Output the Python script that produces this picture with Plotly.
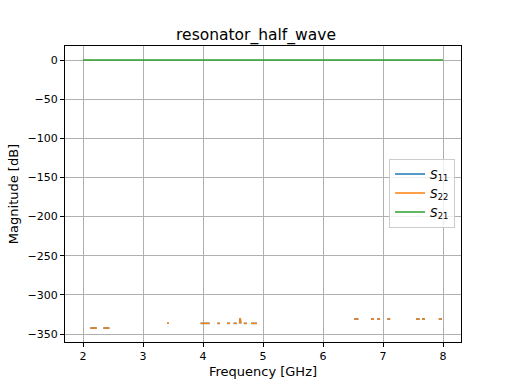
import plotly.graph_objects as go

# S22 (and S11, identical and hidden underneath) : numerical-noise fragments, None = gap (-inf dB)
s22_freq = [2.12, 2.17, 2.23, None,
            2.34, 2.39, 2.44, None,
            3.40, 3.43, None,
            3.96, 4.02, 4.07, 4.11, None,
            4.24, 4.28, None,
            4.40, 4.45, None,
            4.51, 4.56, None,
            4.61, 4.62, 4.63, None,
            4.68, 4.73, None,
            4.80, 4.85, 4.90, None,
            6.52, 6.59, None,
            6.80, 6.85, None,
            6.90, 6.95, None,
            7.07, 7.12, None,
            7.55, 7.61, None,
            7.65, 7.70, None,
            7.93, 7.98]
s22_db = [-342.3, -342.3, -342.3, None,
          -342.3, -342.3, -342.3, None,
          -336.3, -336.3, None,
          -336.3, -336.3, -336.3, -336.3, None,
          -336.3, -336.3, None,
          -336.3, -336.3, None,
          -336.3, -336.3, None,
          -336.3, -329.5, -336.3, None,
          -336.3, -336.3, None,
          -336.3, -336.3, -336.3, None,
          -330.8, -330.8, None,
          -330.8, -330.8, None,
          -330.8, -330.8, None,
          -330.8, -330.8, None,
          -330.8, -330.8, None,
          -330.8, -330.8, None,
          -330.8, -330.8]
s11_freq = s22_freq
s11_db = s22_db
s21_freq = [2.0, 8.0]
s21_db = [0.0, 0.0]

x_ticks = [2, 3, 4, 5, 6, 7, 8]
y_ticks = [0, -50, -100, -150, -200, -250, -300, -350]

fig = go.Figure()
fig.add_trace(go.Scatter(x=s11_freq, y=s11_db, mode="lines", name="<i>S</i><sub>11</sub>",
                         line=dict(color="#1f77b4", width=1.5), connectgaps=False))
fig.add_trace(go.Scatter(x=s22_freq, y=s22_db, mode="lines", name="<i>S</i><sub>22</sub>",
                         line=dict(color="#ff7f0e", width=1.5), connectgaps=False))
fig.add_trace(go.Scatter(x=s21_freq, y=s21_db, mode="lines", name="<i>S</i><sub>21</sub>",
                         line=dict(color="#2ca02c", width=1.5)))

axis_common = dict(showgrid=True, gridcolor="#b0b0b0", gridwidth=0.8, zeroline=False,
                   showline=True, linecolor="black", linewidth=1, mirror=True,
                   ticks="outside", ticklen=4, tickcolor="black", automargin=False,
                   tickfont=dict(family="DejaVu Sans", size=11, color="black"))

fig.update_layout(
    width=512, height=384,
    margin=dict(l=65, r=51, t=46, b=42),
    paper_bgcolor="white", plot_bgcolor="white",
    title=dict(text="resonator_half_wave", x=0.5, xanchor="center", y=1 - 35 / 384, yanchor="middle",
               font=dict(family="DejaVu Sans", size=15.5, color="black")),
    xaxis=dict(range=[1.7, 8.3], tickvals=x_ticks,
               title=dict(text="Frequency [GHz]", font=dict(family="DejaVu Sans", size=13, color="black"), standoff=4),
               **axis_common),
    yaxis=dict(range=[-360.1, 17.9], tickvals=y_ticks,
               title=dict(text="Magnitude [dB]", font=dict(family="DejaVu Sans", size=13, color="black"), standoff=6),
               **axis_common),
    legend=dict(x=0.985, y=0.503, xanchor="right", yanchor="middle",
                bgcolor="rgba(255,255,255,0.8)", bordercolor="#cccccc", borderwidth=1,
                font=dict(family="DejaVu Sans", size=12, color="black"),
                tracegroupgap=0, itemwidth=30),
    showlegend=True,
)

fig.write_html("out.html", config={"displayModeBar": False},
               post_script="document.body.style.margin='0px';")
